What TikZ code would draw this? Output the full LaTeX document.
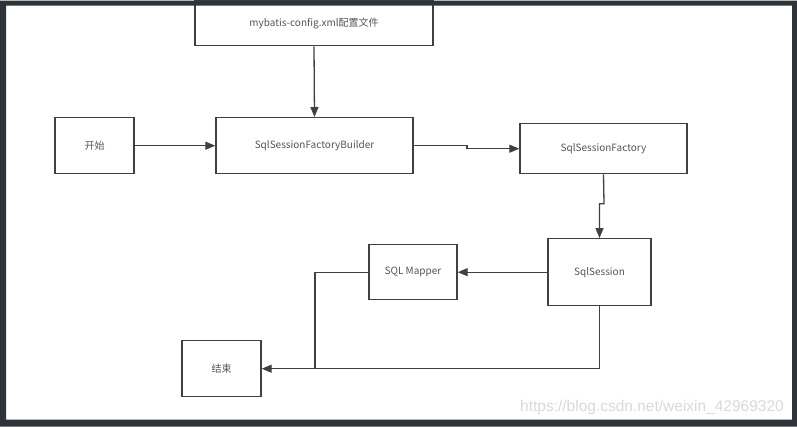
\documentclass[tikz,border=0pt]{standalone}
\usepackage{fontspec}
\newfontfamily\cjk{Noto Sans CJK SC}
\newfontfamily\wmfont{Liberation Sans}
\usetikzlibrary{arrows.meta, positioning, calc}
\definecolor{framecol}{HTML}{2F333A}
\definecolor{linecol}{HTML}{404040}
\definecolor{textcol}{HTML}{555555}
\definecolor{markcol}{HTML}{D9D9D9}

\begin{document}
\begin{tikzpicture}[
    x=1pt, y=-1pt,
    >={Triangle[length=10pt, width=8pt]},
    box/.style={
        draw=linecol, line width=1.4pt, fill=white, align=center,
        font=\cjk\fontsize{10}{12}\selectfont, text=textcol, inner sep=0pt
    },
    flow/.style={->, linecol, line width=1.3pt},
    link/.style={linecol, line width=1.3pt},
]

% ── Background ──
\fill[white] (0,0) rectangle (797,426);

% ── Nodes ──
\node[box, minimum width=238pt, minimum height=45pt] (cfg) at (314,22.5)
    {mybatis-config.xml配置文件};
\node[box, minimum width=79pt, minimum height=56pt] (start) at (94.5,145)
    {开始};
\node[box, minimum width=197pt, minimum height=56pt] (builder) at (314.5,145)
    {SqlSessionFactoryBuilder};
\node[box, minimum width=167pt, minimum height=50pt] (factory) at (603.5,148)
    {SqlSessionFactory};
\node[box, minimum width=103pt, minimum height=67pt] (session) at (599.5,271.5)
    {SqlSession};
\node[box, minimum width=88pt, minimum height=55pt] (mapper) at (413,271.5)
    {SQL Mapper};
\node[box, minimum width=79pt, minimum height=56pt] (finish) at (221.5,368)
    {结束};

% ── Bends ──
\coordinate (bfJog) at (467,145);
\coordinate (fsJog) at (604,203);
\coordinate (join)  at (315,368);

% ── Flow arrows ──
\draw[flow] (cfg.south) -- (builder.north);
\draw[flow] (start.east) -- (builder.west);
\draw[flow] (builder.east) -- (bfJog) |- (factory.west);
\draw[flow] (factory.south) -- (fsJog) -| (session.north);
\draw[flow] (session.west) -- (mapper.east);
\draw[link] (mapper.west) -| (join);
\draw[flow] (session.south) |- (finish.east);

% ── Watermark ──
\node[font=\wmfont\fontsize{15.5}{18}\selectfont, text=markcol] (mark) at (652,407)
    {https://blog.csdn.net/weixin\_42969320};

% ── Frame ──
\fill[framecol, even odd rule] (0,0) rectangle (797,426) (6,5) rectangle (792,419);

\end{tikzpicture}
\end{document}
